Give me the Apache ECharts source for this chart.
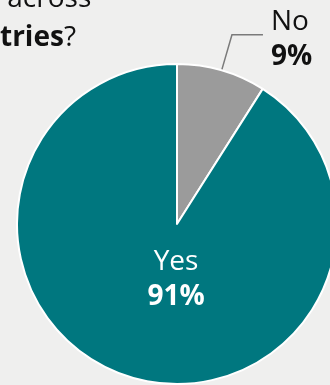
<!DOCTYPE html>
<html>
<head>
<meta charset="utf-8">
<script src="https://cdn.jsdelivr.net/npm/echarts@6/dist/echarts.min.js"></script>
<style>
html,body{margin:0;padding:0;background:#efefee;}
#c{width:330px;height:385px;}
</style>
</head>
<body>
<div id="c"></div>
<script>
const categories = ['No', 'Yes'];
const values = [9, 91];
const titleLine1 = ' across';
const titleLine2Bold = 'tries';
const titleLine2End = '?';

const colors = ['#9b9b9b', '#00777f'];
const FONT = '"Open Sans", "Noto Sans", sans-serif';

const chart = echarts.init(document.getElementById('c'), null, {renderer: 'canvas'});
chart.setOption({
  backgroundColor: '#efefee',
  animation: false,
  title: {
    text: titleLine1 + '\n{b|' + titleLine2Bold + '}' + titleLine2End,
    left: -5,
    top: -25,
    textStyle: {
      fontFamily: FONT, fontSize: 28, fontWeight: 'normal', color: '#111111', lineHeight: 39,
      rich: { b: { fontFamily: FONT, fontSize: 28, fontWeight: 'bold', color: '#111111', lineHeight: 39 } }
    }
  },
  series: [{
    type: 'pie',
    center: [177, 224],
    radius: 160,
    startAngle: 90,
    clockwise: true,
    avoidLabelOverlap: false,
    itemStyle: { borderColor: '#ffffff', borderWidth: 2 },
    label: {
      show: true,
      position: 'outside',
      formatter: '{b}\n{p|{c}%}',
      fontFamily: FONT, fontSize: 28, lineHeight: 35, color: '#111111', align: 'center',
      distanceToLabelLine: 8,
      padding: [10, 0, 0, 0],
      rich: { p: { fontFamily: FONT, fontSize: 28, lineHeight: 35, fontWeight: 'bold', color: '#111111', align: 'center' } }
    },
    labelLine: { show: true, length: 37, length2: 31, lineStyle: { color: '#7a7a7a', width: 1.5 } },
    labelLayout: function (params) {
      if (params.dataIndex === 1) {
        return { x: 176, y: 280, align: 'center', verticalAlign: 'middle' };
      }
      return {};
    },
    data: categories.map((name, i) => {
      const d = { name: name, value: values[i], itemStyle: { color: colors[i] } };
      if (name === 'Yes') {
        d.label = {
          position: 'inside', color: '#ffffff', padding: 0,
          rich: { p: { fontFamily: FONT, fontSize: 28, lineHeight: 35, fontWeight: 'bold', color: '#ffffff', align: 'center' } }
        };
        d.labelLine = { show: false };
      }
      return d;
    })
  }]
});
</script>
</body>
</html>
